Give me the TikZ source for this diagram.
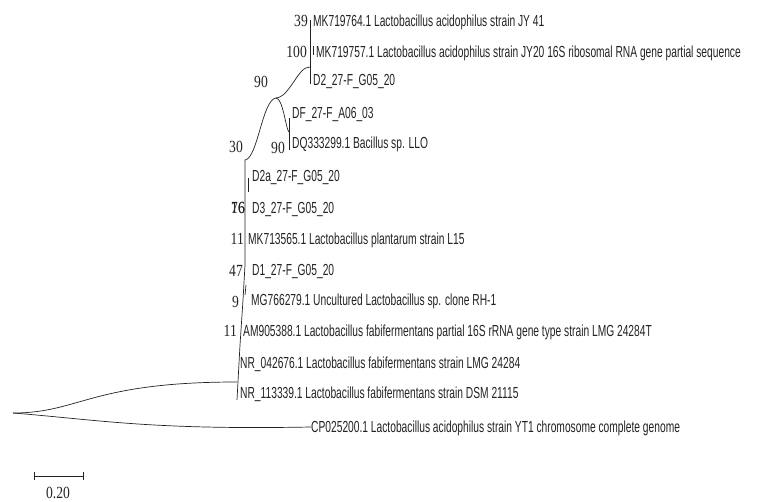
\documentclass[tikz,border=0pt]{standalone}
\usepackage{fontspec}
\usepackage{xcolor}
\usetikzlibrary{positioning, calc}
\newfontfamily\leaffont[FakeStretch=0.64]{Liberation Sans}
\newfontfamily\bootfont[FakeStretch=0.80]{Liberation Serif}
\definecolor{treegray}{RGB}{35, 35, 35}

\begin{document}
\begin{tikzpicture}[
    x=1pt, y=-1pt,
    leaf/.style={anchor=west, inner sep=0pt, text height=11.4pt, text depth=0pt, font=\leaffont\fontsize{16pt}{18pt}\selectfont, text=treegray},
    boot/.style={anchor=east, inner sep=0pt, text height=11.4pt, text depth=0pt, font=\bootfont\fontsize{17pt}{19pt}\selectfont, text=treegray},
    branch/.style={line width=0.7pt, treegray}
]
    \useasboundingbox (0,0) rectangle (757,502);

    % --- LEAVES ---
    \node[leaf] (jy41) at (313, 21) {MK719764.1 Lactobacillus acidophilus strain JY 41};
    \node[leaf] (jy20) at (316, 52) {MK719757.1 Lactobacillus acidophilus strain JY20 16S ribosomal RNA gene partial sequence};
    \node[leaf] (d2) at (313, 80) {D2\_27-F\_G05\_20};
    \node[leaf] (df) at (292, 113) {DF\_27-F\_A06\_03};
    \node[leaf] (dq) at (292, 143) {DQ333299.1 Bacillus sp. LLO};
    \node[leaf] (d2a) at (252, 176) {D2a\_27-F\_G05\_20};
    \node[leaf] (d3) at (252, 208) {D3\_27-F\_G05\_20};
    \node[leaf] (lpl15) at (248, 239) {MK713565.1 Lactobacillus plantarum strain L15};
    \node[leaf] (d1) at (252, 270) {D1\_27-F\_G05\_20};
    \node[leaf] (rh1) at (251, 300) {MG766279.1 Uncultured Lactobacillus sp. clone RH-1};
    \node[leaf] (am) at (243, 331) {AM905388.1 Lactobacillus fabifermentans partial 16S rRNA gene type strain LMG 24284T};
    \node[leaf] (lmg) at (240, 363) {NR\_042676.1 Lactobacillus fabifermentans strain LMG 24284};
    \node[leaf] (dsm) at (240, 393) {NR\_113339.1 Lactobacillus fabifermentans strain DSM 21115};
    \node[leaf] (yt1) at (311, 427) {CP025200.1 Lactobacillus acidophilus strain YT1 chromosome complete genome};

    % --- INTERNAL NODES ---
    \coordinate (root) at (13, 413);
    \coordinate (acidtop) at (310, 20);
    \coordinate (acidbot) at (310, 84);
    \coordinate (acid) at (310, 67);
    \coordinate (up) at (276, 98);
    \coordinate (bactop) at (289, 118);
    \coordinate (bacbot) at (289, 150);
    \coordinate (bac) at (289, 132);
    \coordinate (core) at (245, 160);
    \coordinate (fabi) at (237, 382);
    \coordinate (fabibot) at (237, 400);

    % --- BRANCHES ---
    \draw[branch] (acidtop) -- (acidbot);
    \draw[branch] (313, 46) -- (313, 55);
    \draw[branch] (acid) .. controls (298, 66) and (290, 97) .. (up);
    \draw[branch] (up) .. controls (283, 98) and (286, 130) .. (bac);
    \draw[branch] (bactop) -- (bacbot);
    \draw[branch] (up) .. controls (262, 100) and (258, 158) .. (core);
    \draw[branch] (core) -- (245, 265) -- (243, 300) -- (240, 345) -- (fabibot);
    \draw[branch] (248, 178) -- (248, 192);
    \draw[branch] (246, 285) -- (245, 295);
    \draw[branch] (root) .. controls (80, 413) and (90, 382) .. (fabi);
    \draw[branch] (root) .. controls (100, 420) and (150, 430) .. (yt1.west);

    % --- BOOTSTRAP VALUES ---
    \node[boot] (b39) at (308, 21) {39};
    \node[boot] (b100) at (307, 52) {100};
    \node[boot] (b90a) at (268, 82) {90};
    \node[boot] (b30) at (243, 147) {30};
    \node[boot] (b90b) at (285, 148) {90};
    \node[boot] (b16) at (245, 208) {16};
    \node[boot] (b76) at (245, 208) {76};
    \node[boot] (b11a) at (244, 239) {11};
    \node[boot] (b47) at (243, 271) {47};
    \node[boot] (b9) at (239, 302) {9};
    \node[boot] (b11b) at (237, 331) {11};

    % --- SCALE BAR ---
    \coordinate (sbl) at (34, 476);
    \coordinate (sbr) at (83, 476);
    \draw[branch] (sbl) -- (sbr);
    \draw[branch] ($(sbl)+(0,-4)$) -- ($(sbl)+(0,4)$);
    \draw[branch] ($(sbr)+(0,-4)$) -- ($(sbr)+(0,4)$);
    \node[boot, anchor=center] (sblabel) at (58, 493) {0.20};

\end{tikzpicture}
\end{document}
